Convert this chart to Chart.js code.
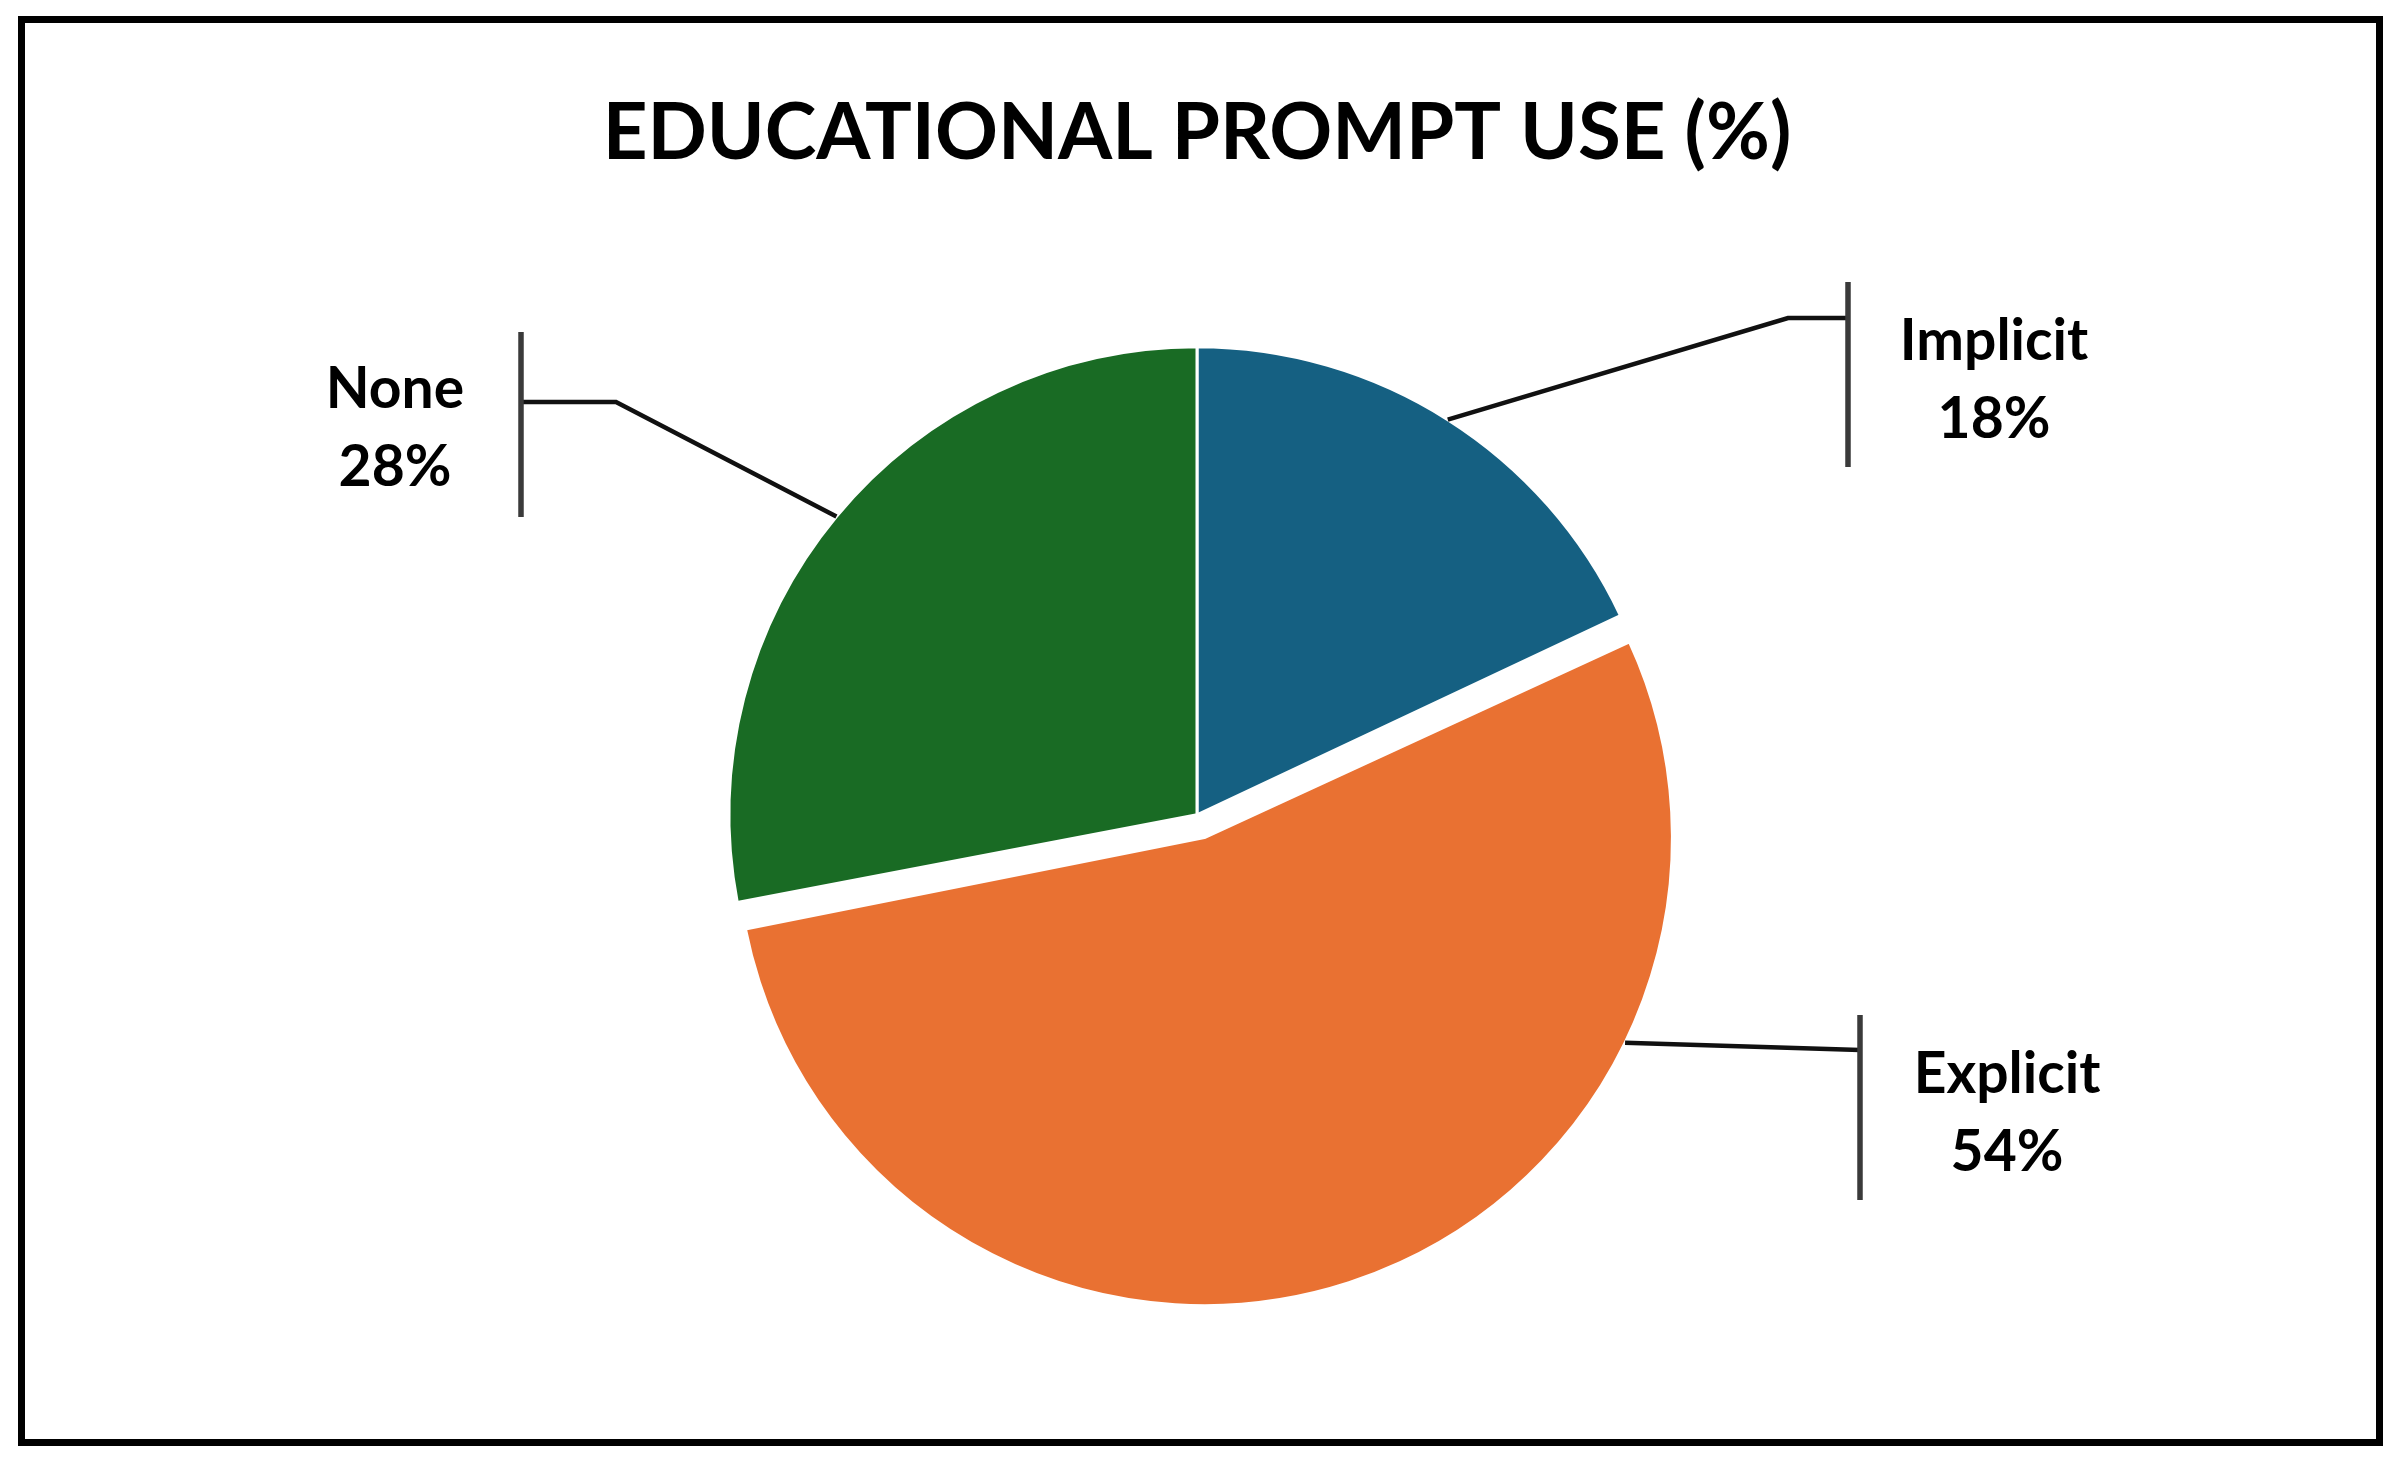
<!DOCTYPE html>
<html>
<head>
<meta charset="utf-8">
<script src="https://cdn.jsdelivr.net/npm/chart.js@4.4.1/dist/chart.umd.min.js"></script>
<style>
  html, body { margin: 0; padding: 0; background: #fff; }
  #wrap { position: relative; width: 2400px; height: 1465px; }
  #frame { position: absolute; left: 18px; top: 16px; width: 2365px; height: 1430px; border: 7px solid #000; box-sizing: border-box; pointer-events: none; }
  canvas { display: block; }
</style>
</head>
<body>
<div id="wrap">
  <canvas id="chart" width="2400" height="1465"></canvas>
  <div id="frame"></div>
</div>
<script>
// Values
const categories = ['Implicit', 'Explicit', 'None'];
const shares = [18, 54, 28];
const sliceColors = ['#156082', '#E97132', '#196B24'];
const sliceOffsets = [0, 96, 0]; // Chart.js moves a slice by offset / 4

// Callout layout per slice (page pixels); edgeAngle in degrees clockwise from top, null = mid angle
const callouts = [
    { edgeAngle: null, elbowX: 1788, joinY: 318, bracketX: 1848, bracketTop: 282, bracketBottom: 467, textX: 1994, baseline: 360 },
    { edgeAngle: 116, elbowX: null, joinY: 1050, bracketX: 1860, bracketTop: 1015, bracketBottom: 1200, textX: 2007, baseline: 1093 },
    { edgeAngle: null, elbowX: 616, joinY: 402, bracketX: 521, bracketTop: 332, bracketBottom: 517, textX: 395, baseline: 408 }
];
const lineGap = 78;

const calloutPlugin = {
    id: 'callouts',
    afterDatasetsUpdate(chart) {
        // an offset slice is also drawn bigger by Chart.js; keep all slices the same radius
        chart.getDatasetMeta(0).data.forEach(arc => {
            const off = (arc.options.offset || 0) / 4;
            const fix = 1 - Math.sin(Math.min(Math.PI, arc.circumference));
            arc.outerRadius -= off * fix;
        });
    },
    afterDatasetsDraw(chart) {
        const ctx = chart.ctx;
        const meta = chart.getDatasetMeta(0);
        const r = meta.controller.outerRadius;
        ctx.save();
        meta.data.forEach((arc, i) => {
            const c = callouts[i];
            const off = (arc.options.offset || 0) / 4;
            const half = (arc.startAngle + arc.endAngle) / 2;
            const cx = arc.x + Math.cos(half) * off;
            const cy = arc.y + Math.sin(half) * off;
            const a = c.edgeAngle === null ? half : (c.edgeAngle - 90) * Math.PI / 180;

            // leader line
            ctx.beginPath();
            ctx.moveTo(cx + Math.cos(a) * r, cy + Math.sin(a) * r);
            if (c.elbowX !== null) ctx.lineTo(c.elbowX, c.joinY);
            ctx.lineTo(c.bracketX, c.joinY);
            ctx.strokeStyle = '#111';
            ctx.lineWidth = 4.5;
            ctx.stroke();

            // bracket
            ctx.beginPath();
            ctx.moveTo(c.bracketX, c.bracketTop);
            ctx.lineTo(c.bracketX, c.bracketBottom);
            ctx.strokeStyle = '#3a3a3a';
            ctx.lineWidth = 5.5;
            ctx.stroke();

            // label
            ctx.fillStyle = '#000';
            ctx.font = 'bold 57px Lato';
            ctx.textAlign = 'center';
            ctx.textBaseline = 'alphabetic';
            ctx.fillText(categories[i], c.textX, c.baseline);
            ctx.fillText(shares[i] + '%', c.textX, c.baseline + lineGap);
        });
        ctx.restore();
    }
};

new Chart(document.getElementById('chart'), {
    type: 'pie',
    data: {
        labels: categories,
        datasets: [{
            data: shares,
            backgroundColor: sliceColors,
            borderColor: '#ffffff',
            borderWidth: 3,
            offset: sliceOffsets,
            hoverOffset: 0
        }]
    },
    options: {
        responsive: false,
        animation: false,
        radius: 468,
        layout: {
            padding: { left: 396, right: 402, top: 20, bottom: 20 }
        },
        plugins: {
            legend: { display: false },
            tooltip: { enabled: false },
            title: {
                display: true,
                text: 'EDUCATIONAL PROMPT USE (%)',
                color: '#000',
                font: { family: 'Lato', size: 78, weight: 'bold', lineHeight: 1.2 },
                padding: { top: 67, bottom: 4 }
            }
        }
    },
    plugins: [calloutPlugin]
});
</script>
</body>
</html>
